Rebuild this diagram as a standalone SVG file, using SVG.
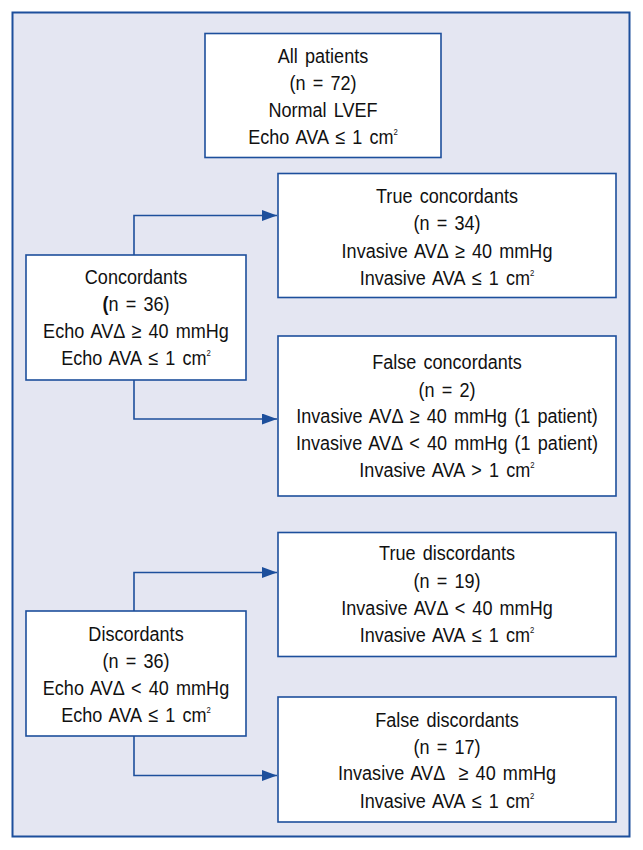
<svg xmlns="http://www.w3.org/2000/svg" width="643" height="850" viewBox="0 0 643 850">
<style>
.box{fill:#ffffff;stroke:#1d4f9c;stroke-width:1.6}
.frame{fill:#e4e6f2;stroke:#1d4f9c;stroke-width:2}
text{font-family:"Liberation Sans",Arial,sans-serif;font-size:21px;word-spacing:2.5px;fill:#111;text-anchor:middle}
.sup{font-size:9px}
.conn{fill:none;stroke:#1d4f9c;stroke-width:1.6}
</style>
<defs>
<marker id="arr" markerWidth="16" markerHeight="12" refX="15" refY="5.5" orient="auto" markerUnits="userSpaceOnUse">
<path d="M0,0 L15,5.5 L0,11 Z" fill="#1d4f9c"/>
</marker>
</defs>
<rect class="frame" x="12.5" y="12.5" width="617" height="824"/>
<g id="connectors">
<path class="conn" d="M134,255 V215.5 H277" marker-end="url(#arr)"/>
<path class="conn" d="M134,380 V419 H277" marker-end="url(#arr)"/>
<path class="conn" d="M134,611 V572.5 H277" marker-end="url(#arr)"/>
<path class="conn" d="M134,736 V775.5 H277" marker-end="url(#arr)"/>
</g>
<g id="all-patients">
<rect class="box" x="205" y="33.5" width="236" height="124"/>
<g transform="translate(323 0) scale(0.86 1)">
<text x="0" y="63">All patients</text>
<text x="0" y="90">(n = 72)</text>
<text x="0" y="117">Normal LVEF</text>
<text x="0" y="144">Echo AVA ≤ 1 cm<tspan class="sup" dy="-9">2</tspan></text>
</g>
</g>
<g id="true-concordants">
<rect class="box" x="278" y="173.5" width="338" height="124"/>
<g transform="translate(447 0) scale(0.86 1)">
<text x="0" y="203">True concordants</text>
<text x="0" y="230">(n = 34)</text>
<text x="0" y="258">Invasive AVΔ ≥ 40 mmHg</text>
<text x="0" y="285">Invasive AVA ≤ 1 cm<tspan class="sup" dy="-9">2</tspan></text>
</g>
</g>
<g id="concordants">
<rect class="box" x="26" y="255" width="220" height="125"/>
<g transform="translate(136 0) scale(0.86 1)">
<text x="0" y="284">Concordants</text>
<text x="0" y="311"><tspan font-weight="bold">(</tspan>n = 36)</text>
<text x="0" y="338">Echo AVΔ ≥ 40 mmHg</text>
<text x="0" y="365">Echo AVA ≤ 1 cm<tspan class="sup" dy="-9">2</tspan></text>
</g>
</g>
<g id="false-concordants">
<rect class="box" x="278" y="336" width="338" height="160"/>
<g transform="translate(447 0) scale(0.86 1)">
<text x="0" y="369">False concordants</text>
<text x="0" y="397">(n = 2)</text>
<text x="0" y="423">Invasive AVΔ ≥ 40 mmHg (1 patient)</text>
<text x="0" y="450">Invasive AVΔ &lt; 40 mmHg (1 patient)</text>
<text x="0" y="477">Invasive AVA &gt; 1 cm<tspan class="sup" dy="-9">2</tspan></text>
</g>
</g>
<g id="true-discordants">
<rect class="box" x="278" y="532.5" width="338" height="124"/>
<g transform="translate(447 0) scale(0.86 1)">
<text x="0" y="560">True discordants</text>
<text x="0" y="588">(n = 19)</text>
<text x="0" y="615">Invasive AVΔ &lt; 40 mmHg</text>
<text x="0" y="642">Invasive AVA ≤ 1 cm<tspan class="sup" dy="-9">2</tspan></text>
</g>
</g>
<g id="discordants">
<rect class="box" x="26" y="611" width="220" height="125"/>
<g transform="translate(136 0) scale(0.86 1)">
<text x="0" y="641">Discordants</text>
<text x="0" y="668">(n = 36)</text>
<text x="0" y="695">Echo AVΔ &lt; 40 mmHg</text>
<text x="0" y="722">Echo AVA ≤ 1 cm<tspan class="sup" dy="-9">2</tspan></text>
</g>
</g>
<g id="false-discordants">
<rect class="box" x="278" y="697" width="338" height="125"/>
<g transform="translate(447 0) scale(0.86 1)">
<text x="0" y="727">False discordants</text>
<text x="0" y="754">(n = 17)</text>
<text x="0" y="780" xml:space="preserve">Invasive AVΔ  ≥ 40 mmHg</text>
<text x="0" y="808">Invasive AVA ≤ 1 cm<tspan class="sup" dy="-9">2</tspan></text>
</g>
</g>
</svg>
